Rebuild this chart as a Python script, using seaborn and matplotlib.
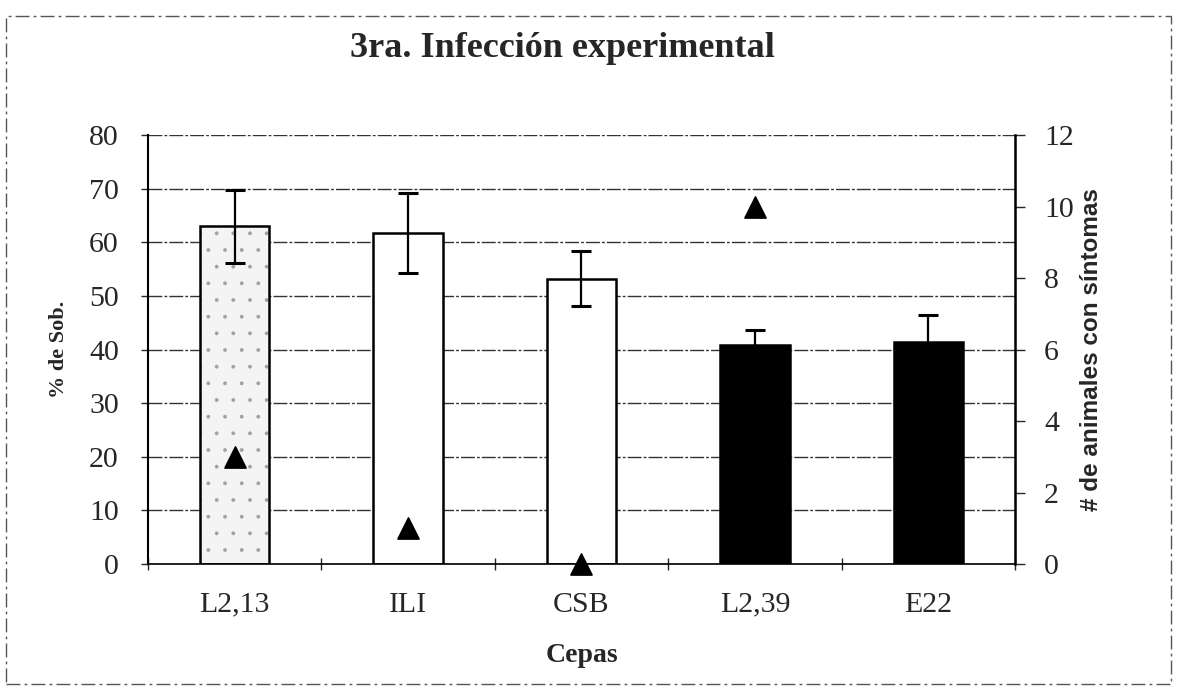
import numpy as np
import pandas as pd
import seaborn as sns
import matplotlib.pyplot as plt
from matplotlib.colors import to_rgba
from matplotlib.patches import Rectangle

# data
cepas = ['L2,13', 'ILI', 'CSB', 'L2,39', 'E22']
sobrevivencia = [63.0, 61.7, 53.2, 40.9, 41.4]   # % de Sob. (left axis)
error_sob = [6.8, 7.4, 5.1, 2.8, 5.1]
sintomas = [3, 1, 0, 10, np.nan]                  # animales con síntomas (right axis)
colores = ['#f4f4f4', 'white', 'white', 'black', 'black']

sns.set_style('white')
plt.rcParams['font.family'] = ['Liberation Serif', 'DejaVu Serif']
plt.rcParams['hatch.linewidth'] = 0.3

df = pd.DataFrame({'Cepa': cepas, 'Sob': sobrevivencia, 'err': error_sob, 'sint': sintomas})

fig = plt.figure(figsize=(11.77, 6.87), dpi=100)
ax = fig.add_axes([0.1257, 0.179, 0.7367, 0.6245])

# grid first, behind the bars
ax.set_axisbelow(True)
ax.yaxis.grid(True, color='#333333', linewidth=1.0, linestyle=(0, (10, 1.5, 2, 1.5)))

sns.barplot(data=df, x='Cepa', y='Sob', hue='Cepa', palette=colores, legend=False,
            errorbar=None, width=0.4, edgecolor='black', linewidth=1.8, ax=ax)
# light stipple on the first bar (grey dots, black outline)
stipple = ax.patches[0]
stipple.set_hatch('.')
stipple._hatch_color = to_rgba('#a0a0a0')

pos = np.arange(len(cepas))
ax.errorbar(pos, df.Sob, yerr=df.err, fmt='none', ecolor='black',
            elinewidth=1.6, capsize=7.5, capthick=2.2, zorder=5)

ax.set_ylim(0, 80)
ax.set_yticks(range(0, 81, 10))
ax.set_xlim(-0.5, len(cepas) - 0.5)
ax.set_xticks(pos)
ax.set_xticklabels(cepas)
ax.tick_params(axis='x', length=0, labelsize=21.5, pad=20)
ax.tick_params(axis='y', length=5, width=1, labelsize=21.5, pad=16, direction='out', left=True)
# category boundary ticks on x axis
ax.set_xticks(np.arange(len(cepas) + 1) - 0.5, minor=True)
ax.tick_params(axis='x', which='minor', length=9, width=1, direction='inout', bottom=True)

ax.set_xlabel('Cepas', fontsize=20, fontweight='bold', labelpad=18)
ax.set_ylabel('% de Sob.', fontsize=16, fontweight='bold', labelpad=14)

ax.spines['top'].set_visible(False)
ax.spines['left'].set_color('black')
ax.spines['left'].set_linewidth(1.5)
ax.spines['bottom'].set_color('black')
ax.spines['bottom'].set_linewidth(1.2)

ax2 = ax.twinx()
sns.scatterplot(x=pos, y=df.sint, marker='^', color='black', s=230,
                edgecolor='black', ax=ax2, zorder=6, clip_on=False)
ax2.set_ylim(0, 12)
ax2.set_yticks(range(0, 13, 2))
ax2.tick_params(axis='y', length=7, width=1, labelsize=21.5, pad=14, direction='out', right=True)
ax2.set_ylabel('# de animales con síntomas', fontsize=17.5, fontweight='bold',
               family=['Liberation Sans', 'DejaVu Sans'], labelpad=4)
ax2.spines['right'].set_color('black')
ax2.spines['right'].set_linewidth(1.8)
for s in ['top', 'left', 'bottom']:
    ax2.spines[s].set_visible(False)
ax2.grid(False)

fig.text(0.478, 0.930, '3ra. Infección experimental', ha='center', va='center',
         fontsize=26, fontweight='bold')

# chart-area border as in the scanned figure
fig.patches.append(Rectangle((0.005, 0.004), 0.99, 0.972, transform=fig.transFigure,
                             fill=False, edgecolor='#555555', linewidth=1,
                             linestyle=(0, (10, 3, 2, 3))))

fig.savefig('out.png', dpi=100)
